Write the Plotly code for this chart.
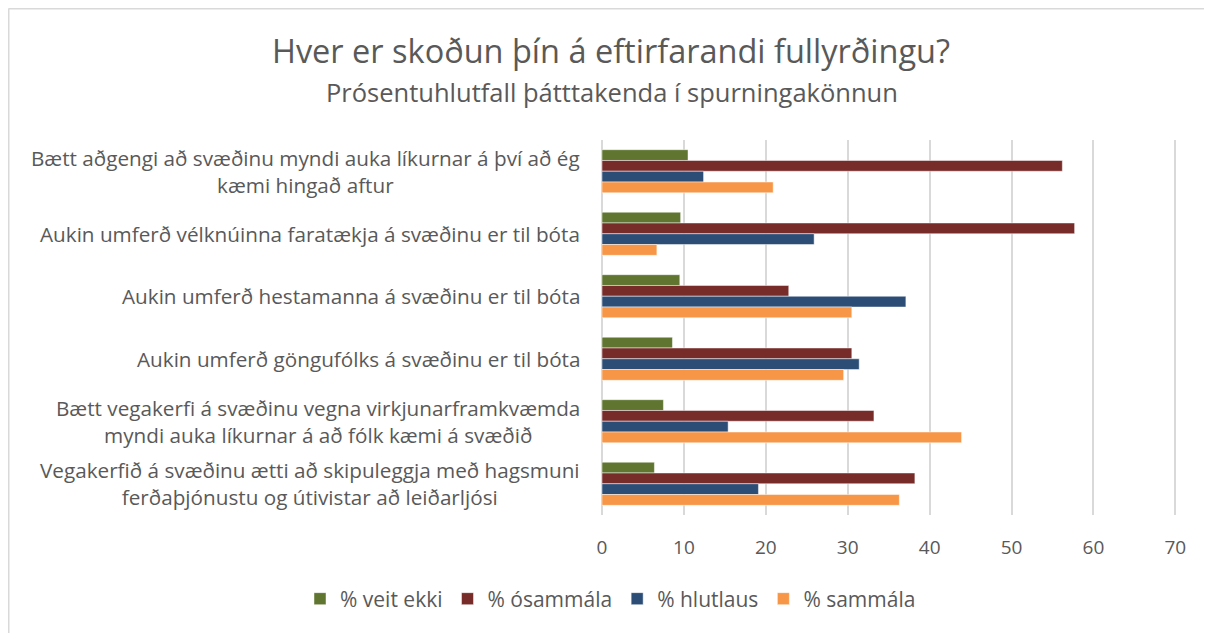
import plotly.graph_objects as go

categories = [
    "Bætt aðgengi að svæðinu myndi auka líkurnar á því að ég<br>kæmi hingað aftur",
    "Aukin umferð vélknúinna faratækja á svæðinu er til bóta",
    "Aukin umferð hestamanna á svæðinu er til bóta",
    "Aukin umferð göngufólks á svæðinu er til bóta",
    "Bætt vegakerfi á svæðinu vegna virkjunarframkvæmda<br>myndi auka líkurnar á að fólk kæmi á svæðið",
    "Vegakerfið á svæðinu ætti að skipuleggja með hagsmuni<br>ferðaþjónustu og útivistar að leiðarljósi",
]
cat_ids = ["c1", "c2", "c3", "c4", "c5", "c6"]

veit_ekki = [10.5, 9.6, 9.5, 8.6, 7.5, 6.4]
osammala = [56.2, 57.7, 22.8, 30.5, 33.2, 38.2]
hlutlaus = [12.4, 25.9, 37.1, 31.4, 15.4, 19.1]
sammala = [20.9, 6.7, 30.5, 29.5, 43.9, 36.3]

series_names = ["% veit ekki", "% ósammála", "% hlutlaus", "% sammála"]
series_values = [veit_ekki, osammala, hlutlaus, sammala]
colors = ["#5F7530", "#772C2A", "#2C4D75", "#F79646"]

FONT = "'Open Sans', Lato, sans-serif"
TXT = "#595959"

W, H = 1204, 625
L, R, T, B = 594, 35, 132, 118
PW = W - L - R
PH = H - T - B

fig = go.Figure()
for name, vals, col in zip(series_names, series_values, colors):
    fig.add_trace(go.Bar(
        y=cat_ids, x=vals, name=name, orientation="h",
        marker=dict(color=col, line=dict(color="rgba(255,255,255,0.6)", width=0.8)),
    ))

annotations = [
    dict(x=0, xref="paper", y=cid, yref="y", text=lab, showarrow=False,
         xanchor="right", align="center", xshift=-20,
         font=dict(family=FONT, size=20.7, color=TXT))
    for cid, lab in zip(cat_ids, categories)
]
annotations.append(
    dict(x=(604 - L) / PW, xref="paper", y=1, yref="paper", showarrow=False,
         text="Prósentuhlutfall þátttakenda í spurningakönnun",
         xanchor="center", yanchor="middle", yshift=48,
         font=dict(family=FONT, size=25.5, color=TXT))
)

x_left = -(L - 0.5) / PW
y_top = 1 + (T - 0.5) / PH
fig.update_layout(
    width=W, height=H,
    paper_bgcolor="white", plot_bgcolor="white",
    margin=dict(l=L, r=R, t=T, b=B),
    barmode="group", bargap=0.31, bargroupgap=0,
    showlegend=True,
    legend=dict(orientation="h", x=(292 - L) / PW, xref="paper", xanchor="left",
                y=-(591 - (H - B)) / PH, yref="paper", yanchor="middle",
                font=dict(family=FONT, size=21, color=TXT),
                traceorder="normal", itemwidth=30),
    xaxis=dict(range=[0, 70.2], tickvals=[0, 10, 20, 30, 40, 50, 60, 70],
               showgrid=True, gridcolor="#D9D9D9", gridwidth=2,
               zeroline=True, zerolinecolor="#D9D9D9", zerolinewidth=2,
               tickfont=dict(family=FONT, size=19, color=TXT), ticks="",
               ticklabelstandoff=19,
               showline=False, fixedrange=True),
    yaxis=dict(autorange="reversed", showticklabels=False, showgrid=False,
               zeroline=False, showline=False, ticks=""),
    title=dict(
        text="Hver er skoðun þín á eftirfarandi fullyrðingu?",
        x=603 / W, xref="container", xanchor="center",
        y=1 - 44 / H, yref="container", yanchor="middle",
        font=dict(family=FONT, size=32.5, color=TXT)),
    annotations=annotations,
    shapes=[
        dict(type="line", xref="paper", yref="paper", x0=x_left, x1=x_left,
             y0=-(B + 40) / PH, y1=y_top, line=dict(color="#D9D9D9", width=2), layer="above"),
        dict(type="line", xref="paper", yref="paper", x0=x_left, x1=1 + (R + 40) / PW,
             y0=y_top, y1=y_top, line=dict(color="#D9D9D9", width=2), layer="above"),
    ],
)

fig.write_html("out.html")
